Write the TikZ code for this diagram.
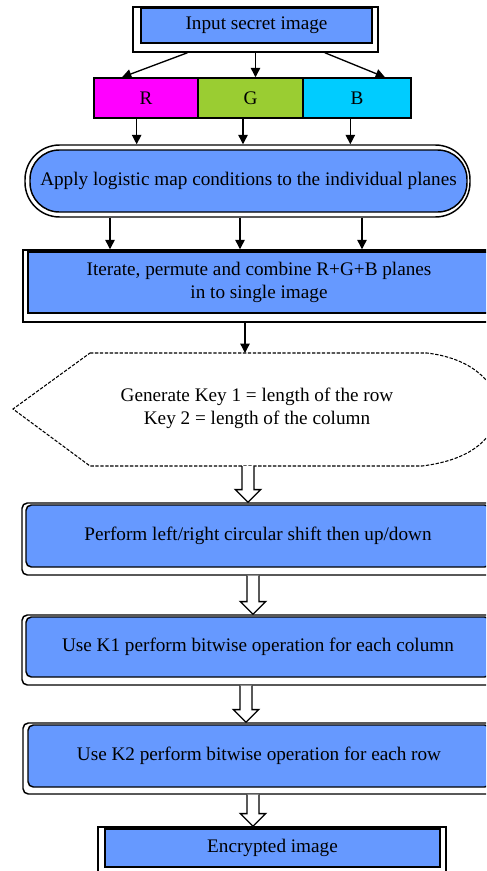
\documentclass[tikz,border=0pt]{standalone}
\usepackage{fontspec}
\setmainfont{Liberation Serif}
\usetikzlibrary{arrows.meta, calc}
\definecolor{boxblue}{RGB}{102,153,255}
\definecolor{planeR}{RGB}{255,0,255}
\definecolor{planeG}{RGB}{154,205,50}
\definecolor{planeB}{RGB}{0,204,255}

\begin{document}
\begin{tikzpicture}[
    x = 0.75pt, y = -0.75pt,
    F/.style = {draw, line width=1.1pt, fill=white, inner sep=0pt},
    B/.style = {draw, line width=1.1pt, fill=boxblue, inner sep=0pt, align=center,
                font=\fontsize{14.4}{17}\selectfont},
    arr/.style = {line width=1pt, -{Triangle[length=7pt, width=7pt]}},
    hollow/.style = {line width=1pt, fill=white, to path={
        let \p1 = (\tikztostart), \p2 = (\tikztotarget) in
        (\x1-4.5pt,\y1) -- (\x1-4.5pt,\y2+9.5pt) -- (\x1-9.5pt,\y2+9.5pt) -- (\x1,\y2)
        -- (\x1+9.5pt,\y2+9.5pt) -- (\x1+4.5pt,\y2+9.5pt) -- (\x1+4.5pt,\y1)}}
    ]
    \useasboundingbox (0,0) rectangle (486,871);
    \clip (0,0) rectangle (486,871);
    % input
    \node[F, minimum width=183.75pt, minimum height=33.75pt] (in-f) at (255.5,29.5) {};
    \node[B, minimum width=173.25pt, minimum height=26.25pt] (in) at (256.5,25.5) {Input secret image};
    % planes
    \node[B, fill=planeR, minimum width=78pt, minimum height=30pt] (r) at (146,98) {R};
    \node[B, fill=planeG, minimum width=78.75pt, minimum height=30pt] (g) at (250.5,98) {G};
    \node[B, fill=planeB, minimum width=81pt, minimum height=30pt] (b) at (357,98) {B};
    % logistic map
    \node[F, rounded corners=26pt, minimum width=333.75pt, minimum height=54pt] (map-f) at (247.5,181) {};
    \node[B, rounded corners=22pt, minimum width=327.75pt, minimum height=46.5pt] (map) at (248.5,181)
        {Apply logistic map conditions to the individual planes};
    % combine
    \node[F, minimum width=351.75pt, minimum height=54pt] (comb-f) at (257.5,286) {};
    \node[B, minimum width=346.5pt, minimum height=45.75pt] (comb) at (259,282.5)
        {Iterate, permute and combine R+G+B planes\\in to single image};
    % keys
    \coordinate (hex-n) at (245,353);
    \coordinate (hex-s) at (248,466);
    \draw[line width=0.8pt, dash pattern=on 2.5pt off 1.2pt]
        (90,353) -- (427,353) .. controls (468,358) and (494,378) .. (500,409)
        .. controls (494,440) and (470,460) .. (422,466) -- (90,466) -- (13,409) -- cycle;
    \node[align=center, font=\fontsize{14.4}{17}\selectfont] (key) at (257,408)
        {Generate Key 1 = length of the row\\Key 2 = length of the column};
    % steps
    \node[F, rounded corners=4pt, minimum width=352.5pt, minimum height=54pt] (shift-f) at (257,539) {};
    \node[B, rounded corners=4pt, minimum width=348pt, minimum height=46.5pt] (shift) at (258,536)
        {Perform left/right circular shift then up/down};
    \node[F, rounded corners=4pt, minimum width=352.5pt, minimum height=52.5pt] (k1-f) at (257,650) {};
    \node[B, rounded corners=4pt, minimum width=348pt, minimum height=45pt] (k1) at (258,647)
        {Use K1 perform bitwise operation for each column};
    \node[F, rounded corners=4pt, minimum width=351.75pt, minimum height=53.25pt] (k2-f) at (257.5,758.5) {};
    \node[B, rounded corners=4pt, minimum width=346.5pt, minimum height=46.5pt] (k2) at (259,756)
        {Use K2 perform bitwise operation for each row};
    \node[F, minimum width=261pt, minimum height=43.5pt] (enc-f) at (272,856) {};
    \node[B, minimum width=251.25pt, minimum height=28.5pt] (enc) at (272.5,848) {Encrypted image};
    % arrows
    \draw[arr] ([xshift=-51pt]in-f.south) -- ([xshift=-18pt]r.north);
    \draw[arr] (in-f.south) -- (g.north -| in-f.south);
    \draw[arr] ([xshift=52pt]in-f.south) -- ([xshift=21pt]b.north);
    \draw[arr] ([xshift=-7pt]r.south) -- ([xshift=-7pt]r.south |- map-f.north);
    \draw[arr] (g.south -| 243,0) -- (map-f.north -| 243,0);
    \draw[arr] ([xshift=-5pt]b.south) -- ([xshift=-5pt]b.south |- map-f.north);
    \draw[arr] (map-f.south -| 110,0) -- (comb-f.north -| 110,0);
    \draw[arr] (map-f.south -| 240,0) -- (comb-f.north -| 240,0);
    \draw[arr] (map-f.south -| 362,0) -- (comb-f.north -| 362,0);
    \draw[arr] (comb-f.south -| hex-n) -- (hex-n);
    \draw[hollow] (hex-s) to (shift-f.north -| hex-s);
    \draw[hollow] (shift-f.south -| 253,0) to (k1-f.north -| 253,0);
    \draw[hollow] (k1-f.south -| 246,0) to (k2-f.north -| 246,0);
    \draw[hollow] (k2-f.south -| 253,0) to (enc-f.north -| 253,0);
\end{tikzpicture}
\end{document}
